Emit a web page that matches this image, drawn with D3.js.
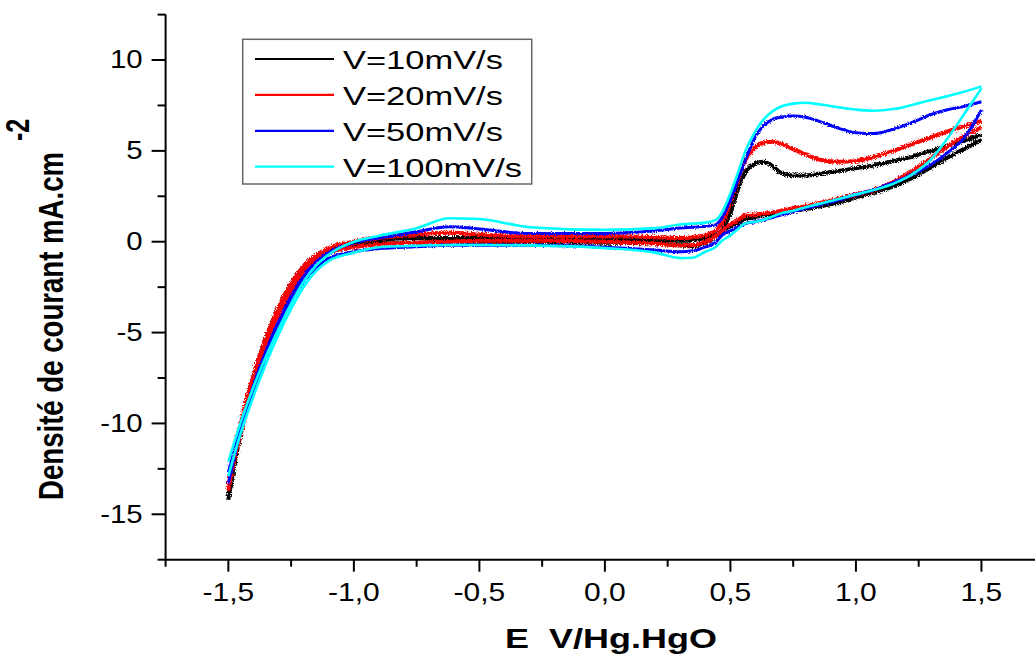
<!DOCTYPE html>
<html>
<head>
<meta charset="utf-8">
<script src="https://cdn.jsdelivr.net/npm/d3@7"></script>
<style>
  html, body { margin: 0; padding: 0; background: #fff; }
  svg { display: block; font-family: "Liberation Sans", Arial, sans-serif; }
</style>
</head>
<body>
<svg id="chart" width="1035" height="655"></svg>
<script>
// Potential grid (V vs Hg/HgO) shared by every branch
const potentials = [-1.5, -1.45, -1.4, -1.35, -1.3, -1.25, -1.2, -1.15, -1.1, -1.0,
  -0.9, -0.75, -0.62, -0.5, -0.3, 0, 0.2, 0.3, 0.35, 0.4,
  0.44, 0.47, 0.5, 0.53, 0.56, 0.6, 0.63, 0.67, 0.7, 0.75,
  0.8, 0.86, 0.93, 1.0, 1.07, 1.15, 1.23, 1.3, 1.36, 1.43, 1.5];

// Current density (mA/cm2), anodic sweep and cathodic (return) sweep
const fwd10 = [-14.2, -10.2, -7.4, -5.3, -3.6, -2.3, -1.35, -0.75, -0.4, -0.05,
  0.1, 0.2, 0.2, 0.2, 0.15, 0.15, 0.1, 0.05, 0.1, 0.2,
  0.35, 0.7, 1.6, 2.9, 3.85, 4.3, 4.4, 4.15, 3.8, 3.65,
  3.65, 3.75, 3.9, 4.05, 4.2, 4.45, 4.7, 5.0, 5.25, 5.55, 5.9];
const rev10 = [-14.0, -10.5, -7.7, -5.6, -3.9, -2.6, -1.6, -0.95, -0.55, -0.2,
  -0.1, -0.05, 0.0, 0.0, 0.0, -0.05, -0.1, -0.2, -0.25, -0.05,
  0.25, 0.6, 0.85, 1.05, 1.25, 1.35, 1.45, 1.5, 1.6, 1.7,
  1.8, 1.95, 2.15, 2.45, 2.7, 3.05, 3.55, 4.1, 4.6, 5.1, 5.6];

const fwd20 = [-13.7, -10.0, -7.4, -5.3, -3.6, -2.3, -1.35, -0.75, -0.35, 0.0,
  0.2, 0.4, 0.5, 0.4, 0.3, 0.3, 0.25, 0.2, 0.25, 0.35,
  0.6, 1.1, 2.2, 3.4, 4.5, 5.2, 5.45, 5.5, 5.4, 5.1,
  4.8, 4.5, 4.4, 4.45, 4.65, 5.0, 5.4, 5.75, 6.05, 6.35, 6.65];
const rev20 = [-13.4, -10.4, -7.8, -5.7, -4.0, -2.7, -1.7, -1.0, -0.6, -0.3,
  -0.15, -0.05, 0.0, 0.05, 0.05, 0.0, -0.1, -0.2, -0.2, 0.0,
  0.3, 0.64, 0.95, 1.2, 1.45, 1.5, 1.55, 1.6, 1.7, 1.85,
  1.95, 2.15, 2.35, 2.6, 2.85, 3.3, 3.95, 4.6, 5.2, 5.8, 6.3];

const fwd50 = [-13.3, -10.3, -7.9, -6.0, -4.4, -3.0, -1.9, -1.1, -0.6, -0.05,
  0.2, 0.55, 0.83, 0.7, 0.45, 0.45, 0.6, 0.75, 0.8, 0.85,
  0.92, 1.4, 2.3, 3.4, 4.5, 5.8, 6.35, 6.75, 6.85, 6.92,
  6.85, 6.6, 6.25, 6.0, 5.95, 6.2, 6.6, 7.0, 7.25, 7.45, 7.7];
const rev50 = [-12.7, -10.2, -8.2, -6.3, -4.7, -3.3, -2.2, -1.4, -0.9, -0.55,
  -0.38, -0.28, -0.2, -0.2, -0.2, -0.3, -0.45, -0.55, -0.5, -0.3,
  -0.05, 0.4, 0.6, 0.8, 1.0, 1.1, 1.2, 1.35, 1.47, 1.65,
  1.85, 2.05, 2.3, 2.6, 2.85, 3.25, 3.75, 4.25, 4.85, 5.7, 7.25];

const fwd100 = [-12.1, -9.9, -8.0, -6.3, -4.8, -3.4, -2.2, -1.3, -0.7, 0.0,
  0.33, 0.74, 1.29, 1.25, 0.8, 0.65, 0.75, 0.95, 1.0, 1.05,
  1.19, 1.7, 2.66, 3.8, 5.0, 6.1, 6.7, 7.2, 7.43, 7.6,
  7.65, 7.55, 7.4, 7.27, 7.21, 7.3, 7.55, 7.8, 8.0, 8.25, 8.55];
const rev100 = [-12.9, -10.5, -8.5, -6.7, -5.1, -3.7, -2.5, -1.6, -1.05, -0.6,
  -0.3, -0.22, -0.18, -0.18, -0.2, -0.35, -0.6, -0.9, -0.88, -0.55,
  -0.3, 0.09, 0.35, 0.7, 1.01, 1.1, 1.2, 1.4, 1.56, 1.7,
  1.9, 2.1, 2.35, 2.6, 2.84, 3.2, 3.76, 4.55, 5.6, 7.0, 8.44];

const seriesLabels = ["V=10mV/s", "V=20mV/s", "V=50mV/s", "V=100mV/s"];
const seriesColors = ["#000000", "#ff0000", "#0000ff", "#00ffff"];

const xTicks = [-1.5, -1.0, -0.5, 0.0, 0.5, 1.0, 1.5];
const yTicks = [-15, -10, -5, 0, 5, 10];

const series = [
  { fwd: fwd10, rev: rev10 },
  { fwd: fwd20, rev: rev20 },
  { fwd: fwd50, rev: rev50 },
  { fwd: fwd100, rev: rev100 }
].map((s, i) => ({ ...s, label: seriesLabels[i], color: seriesColors[i] }));

// ---- layout ----
const svg = d3.select("#chart");
const x = d3.scaleLinear().domain([-1.75, 1.75]).range([165.6, 1044.2]);
const y = d3.scaleLinear().domain([-17.5, 12.5]).range([559.7, 14.6]);

const fmtComma = d => d3.format(".1f")(d).replace(".", ",").replace("−", "-");

// rough texture for the noisy low-rate scans
const defs = svg.append("defs");
[["rough1", 6, 0.9], ["rough2", 3.5, 0.9]].forEach(([id, sc, f]) => {
  const flt = defs.append("filter").attr("id", id)
    .attr("x", "-2%").attr("y", "-2%").attr("width", "104%").attr("height", "104%");
  flt.append("feTurbulence").attr("type", "fractalNoise").attr("baseFrequency", f)
    .attr("numOctaves", 1).attr("seed", 4).attr("result", "n");
  flt.append("feDisplacementMap").attr("in", "SourceGraphic").attr("in2", "n")
    .attr("scale", sc).attr("xChannelSelector", "R").attr("yChannelSelector", "G");
});
const strokeW = [4, 4, 3, 2.6];
const filters = ["url(#rough1)", "url(#rough1)", "url(#rough2)", null];

// ---- curves ----
const line = d3.line()
  .x((d, i) => x(potentials[i]))
  .y(d => y(d))
  .curve(d3.curveMonotoneX);

const plot = svg.append("g");
series.forEach((s, i) => {
  const g = plot.append("g").attr("filter", filters[i]);
  [s.fwd, s.rev].forEach(branch => {
    g.append("path")
      .attr("d", line(branch))
      .attr("fill", "none")
      .attr("stroke", s.color)
      .attr("stroke-width", strokeW[i])
      .attr("stroke-linejoin", "round");
  });
});

// ---- axes ----
const axisColor = "#000";
const gx = svg.append("g").attr("transform", `translate(0,${y(-17.5)})`);
gx.append("line").attr("x1", x(-1.75)).attr("x2", 1035)
  .attr("stroke", axisColor).attr("stroke-width", 2);
d3.range(-7, 8).forEach(k => {
  const v = k * 0.25;
  const major = Math.abs(v * 2 - Math.round(v * 2)) < 1e-9;
  gx.append("line").attr("x1", x(v)).attr("x2", x(v))
    .attr("y1", 0).attr("y2", major ? 12 : 7)
    .attr("stroke", axisColor).attr("stroke-width", 2);
});
gx.selectAll("text.tick").data(xTicks).join("text")
  .attr("class", "tick")
  .attr("transform", d => `translate(${x(d)},41) scale(1.2,1)`)
  .attr("text-anchor", "middle")
  .attr("font-size", 25)
  .text(fmtComma);

const gy = svg.append("g").attr("transform", `translate(${x(-1.75)},0)`);
gy.append("line").attr("y1", y(12.5)).attr("y2", y(-17.5))
  .attr("stroke", axisColor).attr("stroke-width", 2);
d3.range(-7, 6).forEach(k => {
  const v = k * 2.5;
  const major = k % 2 === 0;
  gy.append("line").attr("x1", major ? -14 : -8).attr("x2", 0)
    .attr("y1", y(v)).attr("y2", y(v))
    .attr("stroke", axisColor).attr("stroke-width", 2);
});
gy.selectAll("text.tick").data(yTicks).join("text")
  .attr("class", "tick")
  .attr("transform", d => `translate(-23,${y(d) + 8.3}) scale(1.13,1)`)
  .attr("text-anchor", "end")
  .attr("font-size", 26)
  .text(d => String(d));

// ---- axis titles ----
svg.append("text")
  .attr("transform", "translate(611,648) scale(1.285,1)")
  .attr("text-anchor", "middle")
  .attr("font-size", 28)
  .attr("font-weight", "bold")
  .style("white-space", "pre")
  .text("E  V/Hg.HgO");

const yt = svg.append("text")
  .attr("transform", "translate(63,500) scale(1.3,1) rotate(-90)")
  .attr("font-size", 27.6)
  .attr("font-weight", "bold");
yt.append("tspan").text("Densité de courant mA.cm");
yt.append("tspan").attr("dy", -26).attr("dx", 11).attr("font-size", 25).text("-2");

// ---- legend ----
const lg = svg.append("g");
lg.append("rect")
  .attr("x", 242.7).attr("y", 39.3).attr("width", 289).attr("height", 144.7)
  .attr("fill", "#fff").attr("stroke", "#666").attr("stroke-width", 1.5);
const rowY = d3.scaleLinear().domain([0, 3]).range([59, 166.7]);
series.forEach((s, i) => {
  lg.append("line").attr("x1", 255).attr("x2", 334)
    .attr("y1", rowY(i)).attr("y2", rowY(i))
    .attr("stroke", s.color).attr("stroke-width", 2.2);
  lg.append("text")
    .attr("transform", `translate(343,${rowY(i) + 10.3}) scale(1.326,1)`)
    .attr("font-size", 26)
    .text(s.label);
});
</script>
</body>
</html>
